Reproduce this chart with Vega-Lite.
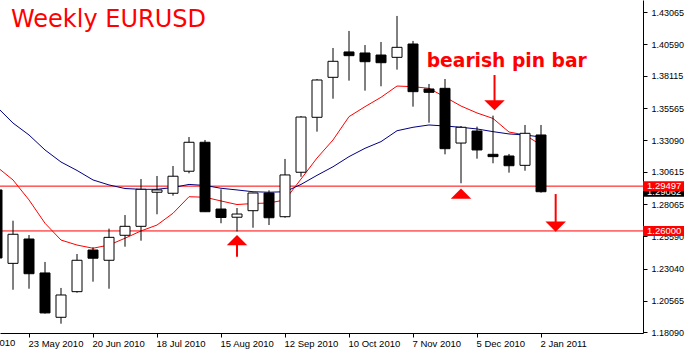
{
  "$schema": "https://vega.github.io/schema/vega-lite/v6.json",
  "autosize": {"type": "none"},
  "width": 643,
  "height": 333,
  "padding": {"left": 0, "top": 0, "right": 42, "bottom": 21},
  "background": "white",
  "config": {"view": {"stroke": null}, "scale": {"continuousPadding": 0}},
  "title": {"text": "Weekly EURUSD", "anchor": "start", "frame": "group", "offset": -27, "dy": 24, "baseline": "alphabetic", "dx": 11, "color": "#FF0000", "font": "DejaVu Sans", "fontSize": 24, "fontWeight": "normal"},
  "datasets": {
    "candles": [
      {"d": "2010-05-09T00:00", "o": 1.2920, "h": 1.3094, "l": 1.2350, "c": 1.2389, "r": 1.3099, "b": 1.3567},
      {"d": "2010-05-16T00:00", "o": 1.2347, "h": 1.2680, "l": 1.2141, "c": 1.2574, "r": 1.2998, "b": 1.3442},
      {"d": "2010-05-23T00:00", "o": 1.2537, "h": 1.2568, "l": 1.2149, "c": 1.2266, "r": 1.2842, "b": 1.3349},
      {"d": "2010-05-30T00:00", "o": 1.2272, "h": 1.2358, "l": 1.1955, "c": 1.1960, "r": 1.2660, "b": 1.3232},
      {"d": "2010-06-06T00:00", "o": 1.1926, "h": 1.2155, "l": 1.1876, "c": 1.2100, "r": 1.2529, "b": 1.3138},
      {"d": "2010-06-13T00:00", "o": 1.2126, "h": 1.2420, "l": 1.2118, "c": 1.2371, "r": 1.2490, "b": 1.3072},
      {"d": "2010-06-20T00:00", "o": 1.2451, "h": 1.2472, "l": 1.2204, "c": 1.2387, "r": 1.2465, "b": 1.2998},
      {"d": "2010-06-27T00:00", "o": 1.2371, "h": 1.2618, "l": 1.2149, "c": 1.2550, "r": 1.2490, "b": 1.2959},
      {"d": "2010-07-04T00:00", "o": 1.2566, "h": 1.2724, "l": 1.2477, "c": 1.2636, "r": 1.2543, "b": 1.2931},
      {"d": "2010-07-11T00:00", "o": 1.2636, "h": 1.3005, "l": 1.2524, "c": 1.2925, "r": 1.2600, "b": 1.2925},
      {"d": "2010-07-18T00:00", "o": 1.2902, "h": 1.3029, "l": 1.2730, "c": 1.2920, "r": 1.2646, "b": 1.2925},
      {"d": "2010-07-25T00:00", "o": 1.2894, "h": 1.3107, "l": 1.2875, "c": 1.3027, "r": 1.2738, "b": 1.2939},
      {"d": "2010-08-01T00:00", "o": 1.3066, "h": 1.3333, "l": 1.3050, "c": 1.3292, "r": 1.2867, "b": 1.2963},
      {"d": "2010-08-08T00:00", "o": 1.3292, "h": 1.3310, "l": 1.2748, "c": 1.2750, "r": 1.2863, "b": 1.2955},
      {"d": "2010-08-15T00:00", "o": 1.2771, "h": 1.2925, "l": 1.2660, "c": 1.2705, "r": 1.2834, "b": 1.2933},
      {"d": "2010-08-22T00:00", "o": 1.2707, "h": 1.2779, "l": 1.2596, "c": 1.2732, "r": 1.2806, "b": 1.2920},
      {"d": "2010-08-29T00:00", "o": 1.2758, "h": 1.2898, "l": 1.2625, "c": 1.2896, "r": 1.2814, "b": 1.2906},
      {"d": "2010-09-05T00:00", "o": 1.2896, "h": 1.2917, "l": 1.2646, "c": 1.2703, "r": 1.2818, "b": 1.2902},
      {"d": "2010-09-12T00:00", "o": 1.2711, "h": 1.3162, "l": 1.2703, "c": 1.3037, "r": 1.2842, "b": 1.2906},
      {"d": "2010-09-19T00:00", "o": 1.3058, "h": 1.3497, "l": 1.3023, "c": 1.3489, "r": 1.3005, "b": 1.2963},
      {"d": "2010-09-26T00:00", "o": 1.3487, "h": 1.3786, "l": 1.3375, "c": 1.3778, "r": 1.3169, "b": 1.3034},
      {"d": "2010-10-03T00:00", "o": 1.3799, "h": 1.4028, "l": 1.3632, "c": 1.3924, "r": 1.3310, "b": 1.3101},
      {"d": "2010-10-10T00:00", "o": 1.3997, "h": 1.4161, "l": 1.3773, "c": 1.3968, "r": 1.3492, "b": 1.3180},
      {"d": "2010-10-17T00:00", "o": 1.3989, "h": 1.4051, "l": 1.3695, "c": 1.3921, "r": 1.3570, "b": 1.3245},
      {"d": "2010-10-24T00:00", "o": 1.3973, "h": 1.4075, "l": 1.3729, "c": 1.3913, "r": 1.3643, "b": 1.3297},
      {"d": "2010-10-31T00:00", "o": 1.3955, "h": 1.4278, "l": 1.3859, "c": 1.4033, "r": 1.3731, "b": 1.3382},
      {"d": "2010-11-07T00:00", "o": 1.4059, "h": 1.4083, "l": 1.3570, "c": 1.3687, "r": 1.3726, "b": 1.3409},
      {"d": "2010-11-14T00:00", "o": 1.3708, "h": 1.3747, "l": 1.3445, "c": 1.3682, "r": 1.3713, "b": 1.3427},
      {"d": "2010-11-21T00:00", "o": 1.3713, "h": 1.3786, "l": 1.3198, "c": 1.3242, "r": 1.3645, "b": 1.3419},
      {"d": "2010-11-28T00:00", "o": 1.3286, "h": 1.3419, "l": 1.2972, "c": 1.3409, "r": 1.3575, "b": 1.3409},
      {"d": "2010-12-05T00:00", "o": 1.3380, "h": 1.3414, "l": 1.3164, "c": 1.3232, "r": 1.3521, "b": 1.3396},
      {"d": "2010-12-12T00:00", "o": 1.3198, "h": 1.3500, "l": 1.3128, "c": 1.3180, "r": 1.3478, "b": 1.3375},
      {"d": "2010-12-19T00:00", "o": 1.3185, "h": 1.3201, "l": 1.3055, "c": 1.3109, "r": 1.3372, "b": 1.3357},
      {"d": "2010-12-26T00:00", "o": 1.3112, "h": 1.3427, "l": 1.3070, "c": 1.3362, "r": 1.3349, "b": 1.3349},
      {"d": "2011-01-02T00:00", "o": 1.3349, "h": 1.3427, "l": 1.2899, "c": 1.2906, "r": 1.3271, "b": 1.3333}
    ],
    "levels": [{"p": 1.29497}, {"p": 1.26}],
    "arrows": [
      {"d": "2010-08-22T00:00", "hy": 1.2529, "s1": 1.2506, "s2": 1.2399, "dir": "up"},
      {"d": "2010-11-28T00:00", "hy": 1.2892, "dir": "up"},
      {"d": "2010-12-12T16:00", "hy": 1.3581, "s1": 1.3817, "s2": 1.3606, "dir": "down"},
      {"d": "2011-01-08T10:00", "hy": 1.2633, "s1": 1.2888, "s2": 1.2662, "dir": "down"}
    ],
    "notes": [{"d": "2010-11-13T00:00", "p": 1.3882, "t": "bearish pin bar"}],
    "tags": [
      {"p": 1.2906, "t": "1.29062", "k": "cur"},
      {"p": 1.29497, "t": "1.29497", "k": "lvl"},
      {"p": 1.26, "t": "1.26000", "k": "lvl"}
    ],
    "cut": [{"d": "2010-04-25T00:00"}]
  },
  "layer": [
    {
      "data": {"name": "levels"},
      "mark": {"type": "rule", "color": "#FF0000", "strokeWidth": 1},
      "encoding": {
        "y": {"field": "p", "type": "quantitative", "title": null,
          "scale": {"domain": [1.18034, 1.44025], "nice": false, "zero": false, "padding": 0},
          "axis": {"orient": "right", "values": [1.43065, 1.4059, 1.38115, 1.35565, 1.3309, 1.30615, 1.28065, 1.2559, 1.2304, 1.20565, 1.1809],
            "tickCount": 30, "format": ".5f", "grid": false, "tickSize": 4, "tickColor": "#000000", "domainColor": "#000000", "labelColor": "#000000",
            "labelFont": "Liberation Sans", "labelFontSize": 9, "labelPadding": 4, "labelFlush": false, "labelOverlap": false, "labelBound": false, "labelBaseline": "middle", "title": null}}
      }
    },
    {
      "data": {"name": "candles"},
      "mark": {"type": "line", "color": "#FF0000", "strokeWidth": 1},
      "encoding": {
        "x": {"field": "d", "type": "temporal", "title": null,
          "scale": {"domain": [{"year": 2010, "month": "may", "date": 10, "hours": 7, "minutes": 30}, {"year": 2011, "month": "feb", "date": 15, "hours": 15}], "nice": false, "padding": 0},
          "axis": {"orient": "bottom", "values": [
              {"year": 2010, "month": "may", "date": 23}, {"year": 2010, "month": "jun", "date": 20}, {"year": 2010, "month": "jul", "date": 18},
              {"year": 2010, "month": "aug", "date": 15}, {"year": 2010, "month": "sep", "date": 12}, {"year": 2010, "month": "oct", "date": 10},
              {"year": 2010, "month": "nov", "date": 7}, {"year": 2010, "month": "dec", "date": 5}, {"year": 2011, "month": "jan", "date": 2}],
            "tickCount": 30, "format": "%-d %b %Y", "grid": false, "tickSize": 4, "tickColor": "#000000", "domainColor": "#000000", "labelColor": "#000000",
            "labelFont": "Liberation Sans", "labelFontSize": 9.5, "labelPadding": 1, "labelAlign": "left", "labelOffset": -1, "labelBaseline": "top",
            "labelFlush": false, "labelOverlap": false, "labelBound": false, "title": null}},
        "y": {"field": "r", "type": "quantitative", "title": null}
      }
    },
    {
      "data": {"name": "candles"},
      "mark": {"type": "line", "color": "#000080", "strokeWidth": 1},
      "encoding": {
        "x": {"field": "d", "type": "temporal", "title": null},
        "y": {"field": "b", "type": "quantitative", "title": null}
      }
    },
    {
      "data": {"name": "candles"},
      "mark": {"type": "rule", "color": "#000000", "strokeWidth": 1},
      "encoding": {
        "x": {"field": "d", "type": "temporal", "title": null},
        "y": {"field": "l", "type": "quantitative", "title": null},
        "y2": {"field": "h"}
      }
    },
    {
      "data": {"name": "candles"},
      "mark": {"type": "bar", "size": 10, "stroke": "#000000", "strokeWidth": 1, "cornerRadius": 0},
      "encoding": {
        "x": {"field": "d", "type": "temporal", "title": null},
        "y": {"field": "o", "type": "quantitative", "title": null},
        "y2": {"field": "c"},
        "fill": {"condition": {"test": "datum.c > datum.o", "value": "#FFFFFF"}, "value": "#000000"}
      }
    },
    {
      "data": {"name": "arrows"},
      "transform": [{"filter": "isValid(datum.s1)"}],
      "mark": {"type": "rule", "color": "#FF0000", "strokeWidth": 2},
      "encoding": {
        "x": {"field": "d", "type": "temporal", "title": null},
        "y": {"field": "s1", "type": "quantitative", "title": null},
        "y2": {"field": "s2"}
      }
    },
    {
      "data": {"name": "arrows"},
      "mark": {"type": "point", "filled": true, "opacity": 1, "color": "#FF0000", "size": 420, "strokeWidth": 0},
      "encoding": {
        "x": {"field": "d", "type": "temporal", "title": null},
        "y": {"field": "hy", "type": "quantitative", "title": null},
        "shape": {"field": "dir", "type": "nominal", "legend": null,
          "scale": {"domain": ["up", "down"], "range": ["M-1,0.5L1,0.5L0,-0.5Z", "M-1,-0.5L1,-0.5L0,0.5Z"]}}
      }
    },
    {
      "data": {"name": "notes"},
      "mark": {"type": "text", "color": "#FF0000", "font": "DejaVu Sans", "fontSize": 18.7, "fontWeight": "bold", "align": "left", "baseline": "alphabetic"},
      "encoding": {
        "x": {"field": "d", "type": "temporal", "title": null},
        "y": {"field": "p", "type": "quantitative", "title": null},
        "text": {"field": "t"}
      }
    },
    {
      "data": {"name": "tags"},
      "transform": [{"filter": "datum.k == 'cur'"}],
      "layer": [
        {"mark": {"type": "rect", "color": "#000000", "yOffset": -5, "y2Offset": 5, "x2Offset": 41},
         "encoding": {"x": {"value": "width"}, "x2": {"value": "width"}, "y": {"field": "p", "type": "quantitative", "title": null}, "y2": {"field": "p"}}},
        {"mark": {"type": "text", "color": "#FFFFFF", "font": "Liberation Sans", "fontSize": 9.5, "align": "left", "baseline": "middle", "dx": 4},
         "encoding": {"x": {"value": "width"}, "y": {"field": "p", "type": "quantitative", "title": null}, "text": {"field": "t"}}}
      ]
    },
    {
      "data": {"name": "tags"},
      "transform": [{"filter": "datum.k == 'lvl'"}],
      "layer": [
        {"mark": {"type": "rect", "color": "#FF0000", "yOffset": -5, "y2Offset": 5, "x2Offset": 41},
         "encoding": {"x": {"value": "width"}, "x2": {"value": "width"}, "y": {"field": "p", "type": "quantitative", "title": null}, "y2": {"field": "p"}}},
        {"mark": {"type": "text", "color": "#FFFFFF", "font": "Liberation Sans", "fontSize": 9.5, "align": "left", "baseline": "middle", "dx": 4},
         "encoding": {"x": {"value": "width"}, "y": {"field": "p", "type": "quantitative", "title": null}, "text": {"field": "t"}}}
      ]
    },
    {
      "data": {"name": "cut"},
      "mark": {"type": "text", "color": "#000000", "font": "Liberation Sans", "fontSize": 9.5, "align": "left", "baseline": "top", "dx": -1, "dy": 5},
      "encoding": {
        "x": {"field": "d", "type": "temporal", "title": null},
        "y": {"value": "height"},
        "text": {"field": "d", "type": "temporal", "format": "%-d %b %Y"}
      }
    }
  ]
}
